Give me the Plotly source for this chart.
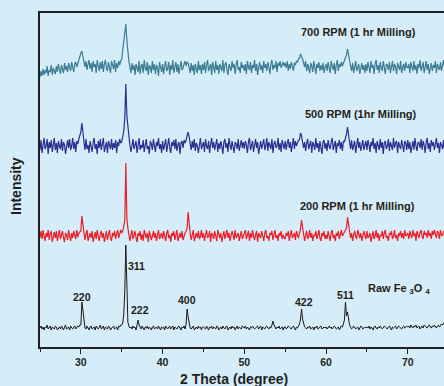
import numpy as np
import plotly.graph_objects as go

# 2-theta sampling grid (degrees): 0.125 deg step from 25 to 75 (401 points)
two_theta = np.linspace(25, 75, 401)

# Intensities (a.u., relative to each pattern's own baseline).
# One row = 5 degrees (40 samples).
raw_fe3o4 = [
    0, 2, -1, 1, -2, 1, 0, 3, -1, 0, 2, -2, 1, 0, -1, 2, 1, -2, 0, 1,
    -1, 2, 0, -2, 1, 3, -1, 0, 1, -2, 2, 0, -1, 1, 2, -1, 0, 2, 1, 3,
    3, 26, 18, 4, 0, -1, 2, 0, -2, 1, 2, -1, 0, 1, -2, 2, 0, -1, 1, 3,
    -1, 0, 2, -2, 1, 0, -1, 2, 1, -2, 0, 1, 2, -1, 0, 1, -2, 2, 1, 3,
    3, 5, 14, 38, 83, 36, 6, 2, 0, 1, -1, 2, 0, 1, -2, 3, 8, 3, 0, -1,
    2, 0, -2, 1, 0, 2, -1, 1, 0, -2, 1, 2, -1, 0, 1, -1, 2, 0, -2, 1,
    0, 1, -2, 2, 0, -1, 1, 2, -1, 0, 2, -2, 1, 0, -1, 1, 2, 0, -2, 1,
    0, 2, -1, 4, 19, 11, 3, 0, -1, 1, 2, -2, 0, 1, -1, 2, 0, 1, -2, 1,
    1, 0, -1, 2, 0, -2, 1, 0, 2, -1, 1, 0, -1, 2, 1, -2, 0, 1, -1, 2,
    0, -1, 1, 2, -2, 0, 1, -1, 2, 0, 1, -2, 0, 2, -1, 1, 0, -1, 2, 1,
    0, 2, -1, 1, 0, -2, 1, 0, 2, 1, -1, 0, 1, 2, -1, 0, 2, -2, 1, 0,
    -1, 1, 2, 0, -1, 1, 0, 3, 7, 3, 0, -1, 1, 0, 2, -1, 0, 1, -2, 1,
    1, -1, 0, 2, 1, 0, -1, 1, 2, 0, -2, 1, 0, 2, 4, 9, 19, 9, 4, 1,
    0, -1, 1, 0, 2, -1, 0, 1, -2, 1, 0, 2, -1, 0, 1, 2, -1, 0, 1, 0,
    1, -1, 0, 2, 0, 1, -1, 0, 2, 1, -1, 0, 1, -2, 0, 2, 1, 4, 8, 26,
    12, 16, 8, 3, 1, -1, 0, 2, 1, -1, 0, 1, -2, 0, 2, 1, -1, 0, 1, 0,
    1, 0, 2, -1, 1, 0, -2, 1, 2, 0, -1, 1, 0, 2, 1, -1, 0, 2, 1, 0,
    -1, 1, 2, 0, -2, 1, 0, 1, 2, -1, 0, 2, 1, 0, -1, 1, 2, 0, 1, 2,
    1, 2, 0, 3, 1, 0, 2, 1, 3, 0, 1, 2, -1, 1, 2, 0, 3, 2, 1, 0,
    2, 3, 1, 0, 2, 1, 3, 2, 0, 2, 3, 1, 2, 4, 3, 5, 6, 4, 3, 2,
    2,
]
rpm200 = [
    -2, 5, -3, 6, 0, -5, 3, -1, 6, -4, 2, 5, -6, 1, 4, -2, 5, -5, 2, 6,
    -3, 0, 5, -2, -6, 3, 1, -4, 6, 0, -5, 3, -2, 5, 1, -3, 6, -1, 3, 4,
    5, 20, 10, 3, -4, 2, 6, -5, 0, 3, -2, 5, -6, 1, 4, -3, 6, 0, -5, 2,
    5, -2, 3, -6, 0, 5, -4, 1, 6, -2, -5, 3, 0, 5, -3, 2, 6, -2, 3, 6,
    3, 5, 10, 16, 73, 18, 8, 2, -5, 1, 6, -3, 0, 5, -2, -6, 3, 0, 5, -4,
    2, -5, 6, 0, -2, 3, -6, 5, 1, -4, 0, 5, -2, 3, -5, 1, 6, -3, 0, 3,
    -3, 5, 0, -5, 3, 6, -2, 1, -6, 3, 0, 5, -4, 1, 6, -5, 0, 3, -2, 5,
    -4, 1, 3, 5, 8, 24, 10, 3, -4, 1, 6, -5, 0, 3, -2, 5, -3, 0, 6, -2,
    3, -5, 1, 6, -2, 0, 5, -6, 3, 1, -3, 5, 0, -5, 6, 1, -2, 3, -6, 0,
    5, -3, 1, 6, -2, 3, -5, 0, 5, 1, -4, 6, -2, 0, 3, -5, 1, 5, -3, 0,
    1, 6, -3, 0, 5, -5, 3, -2, 6, 0, -4, 1, 5, -6, 3, 0, -2, 5, 1, -5,
    3, 6, -2, 0, -5, 3, 1, 5, -4, 0, 6, -2, 1, -5, 3, 0, 5, -3, 1, -2,
    -3, 3, 0, 5, -5, 1, 6, -2, 0, 3, -4, 5, 1, -2, 3, 7, 16, 8, 2, -5,
    1, 5, -3, 0, 6, -2, 3, -5, 1, 0, 5, -3, 1, 6, -2, -5, 3, 0, 5, -3,
    1, -3, 5, 0, -5, 3, 6, -2, 1, -5, 3, 0, 5, -3, 1, 6, 0, 3, 4, 6,
    8, 19, 10, 4, -2, 3, -5, 1, 5, 0, -3, 6, 1, -2, 3, -5, 0, 5, 1, -3,
    5, -2, 0, 3, -6, 1, 5, -3, 0, 6, -2, 3, -5, 1, 0, 5, -3, 3, 6, -2,
    0, -5, 3, 1, 5, -3, 0, 6, -2, 1, -5, 3, 0, 5, -2, 3, -3, 6, 0, 1,
    3, -3, 5, 1, -2, 6, 0, 3, -5, 5, 1, -2, 3, 6, 0, -3, 5, 1, 3, -2,
    6, 0, 3, -3, 5, 1, 6, 0, -2, 5, 3, -3, 6, 1, 0, 5, 3, -2, 5, 1,
    2,
]
rpm500 = [
    -4, 6, -7, 3, 8, -3, 0, 7, -8, 4, -2, 6, -6, 1, 8, -4, 3, -7, 5, 0,
    -3, 7, -5, 4, 1, -8, 3, 6, -2, 7, -4, 0, 8, -3, 4, -6, 5, 2, 7, 10,
    14, 23, 12, 4, -4, 7, -3, 1, -7, 5, 0, -6, 4, 8, -3, 2, -8, 5, -2, 7,
    -4, 3, 8, -6, 0, 4, -7, 5, 1, -3, 7, -4, 3, -2, 6, -7, 4, 0, 7, 3,
    4, 9, 15, 28, 62, 30, 18, 6, 1, -6, 4, 7, -3, 0, 5, -7, 3, 8, -4, 1,
    -2, 6, -6, 4, 7, -3, 0, -8, 5, 2, -4, 7, 1, -6, 4, 0, 8, -3, 2, -7,
    5, -4, 1, 7, -6, 3, 8, -2, -7, 4, 0, 6, -3, 7, -5, 1, 4, -8, 3, 5,
    -2, 6, 3, 6, 11, 14, 9, 3, -4, 5, -2, 7, -5, 3, 0, -7, 4, 8, -3, 1,
    4, -6, 7, 0, -3, 5, -7, 2, 8, -2, 4, -4, 1, 7, -6, 3, -3, 5, 0, -8,
    4, 7, -2, 3, -6, 8, 1, -4, 5, 0, -7, 4, 2, -3, 7, -5, 1, 6, -2, 4,
    -3, 5, 1, -7, 4, 8, -4, 0, 5, -6, 3, 7, -2, 4, -8, 1, 5, -3, 2, 7,
    -4, 0, 8, -5, 4, 1, -3, 7, -7, 2, 5, -2, 0, 8, -4, 3, -6, 6, 1, -3,
    5, -4, 3, 7, -2, 4, -6, 1, 8, -3, 5, 0, 4, 6, 6, 13, 10, 5, -2, 4,
    -5, 3, 7, -3, 0, 5, -7, 4, 1, -4, 8, -2, 3, -6, 5, 0, -8, 4, 6, -3,
    3, -5, 6, 0, -3, 4, 8, -4, 1, 5, -7, 3, 0, 6, -3, 4, -5, 5, 4, 7,
    12, 19, 9, 4, -3, 6, -4, 1, 5, -7, 3, 8, -2, 4, -5, 0, 6, -4, 3, 5,
    -4, 6, 1, -6, 4, 0, 8, -3, 3, -7, 5, 1, -4, 7, -2, 4, -8, 3, 5, -3,
    0, 7, -5, 4, 1, -4, 8, -2, 3, 5, -7, 4, 0, -3, 6, 1, -6, 5, 3, -4,
    6, -3, 4, -7, 1, 5, -4, 8, 0, -5, 4, 3, -2, 7, -4, 5, 1, -7, 4, 8,
    -3, 3, -6, 6, 0, 4, -4, 5, 8, -2, 3, -7, 4, 1, -3, 6, -4, 5, 0, 3,
    1,
]
rpm700 = [
    -9, -3, -8, -1, -7, -2, -5, 2, -8, -2, -4, 3, -7, 0, -3, -6, 2, -4, 4, -2,
    -6, 3, 0, -5, 5, -2, 2, -4, 5, 0, -3, 6, 1, -4, 4, 6, 1, 5, 8, 11,
    15, 17, 10, 6, 1, 7, -2, 4, 8, -1, 5, -4, 7, 1, 4, -5, 8, 2, -3, 6,
    -1, 7, -4, 4, 8, 0, -3, 6, 2, -5, 7, 3, -1, 8, -4, 5, 0, 7, 3, 7,
    9, 18, 26, 32, 44, 28, 16, 7, 1, -5, 5, -2, 3, -7, 4, 0, -4, 7, -6, 2,
    4, -5, 8, 0, -3, 6, -7, 3, 1, -5, 7, -2, 4, -6, 3, 0, -8, 6, 1, -4,
    4, -6, 2, 7, -3, 0, 6, -7, 3, -2, 8, -5, 1, 6, -4, 4, -6, 3, 7, -2,
    0, 4, 7, 2, 6, 5, 0, -5, 5, -3, 3, -7, 4, 0, -5, 7, -2, 3, -6, 4,
    -2, 6, -5, 3, 8, -3, 0, 4, -7, 6, 1, -5, 7, -2, 3, -6, 4, 0, -3, 8,
    -5, 3, 6, -2, -7, 4, 1, -3, 7, 0, 4, -6, 3, 8, -2, 1, -5, 6, 0, 3,
    -3, 4, -6, 7, 1, -2, 6, -5, 3, 0, 8, -3, 4, -7, 1, 6, -2, 3, -5, 7,
    0, 4, -3, 6, 1, -6, 4, 8, -2, 3, 0, 7, -4, 5, 2, 7, 0, 4, 6, 2,
    5, 0, 7, -3, 4, -1, 6, 2, -3, 5, 3, 7, 6, 9, 10, 14, 12, 9, 5, 1,
    7, -3, 4, 0, -5, 5, 2, -4, 7, 1, -6, 4, 0, 6, -3, 3, -2, 5, -5, 1,
    4, -3, 6, 0, -5, 7, 1, -2, 5, -6, 3, 8, -3, 4, 1, 6, 2, 5, 6, 9,
    13, 19, 12, 6, 2, -3, 5, -5, 3, 7, -3, 1, 4, -6, 0, 5, -2, 3, -5, 4,
    -3, 6, 1, -5, 7, 0, 3, -6, 4, 8, -2, 3, -5, 6, 0, -3, 7, 1, -6, 4,
    3, -2, 6, -5, 0, 7, -3, 4, 1, -6, 5, 2, -2, 7, -5, 0, 4, -3, 6, 1,
    0, 4, -5, 6, 1, -3, 7, -2, 3, -6, 4, 0, 8, -3, 1, 6, -5, 3, 7, -2,
    4, -6, 1, 5, -3, 3, 0, 7, -5, 4, 1, -2, 6, -3, 3, 8, 0, 4, -2, 3,
    1,
]

series_names = ["Raw Fe3O4", "200 RPM", "500 RPM", "700 RPM"]
series_data = [raw_fe3o4, rpm200, rpm500, rpm700]
series_offsets = [19, 111, 201, 279]
series_colors = ["#1c1a1b", "#ee1c25", "#2b2e8f", "#3b7c93"]
series_widths = [1.0, 1.2, 1.2, 1.2]

for n, d in zip(series_names, series_data):
    if len(d) != len(two_theta):
        raise SystemExit(f"{n}: {len(d)} values")

peak_labels = ["220", "311", "222", "400", "422", "511"]
peak_label_x = [30.12, 36.86, 37.2, 42.97, 57.3, 62.4]
peak_label_y = [50, 81, 37, 47, 45, 52]

sample_labels = ["700 RPM (1 hr Milling)", "500 RPM (1hr Milling)", "200 RPM (1 hr Milling)"]
sample_label_x = [64.0, 64.26, 63.8]
sample_label_y = [315, 233, 141]

x_ticks = [30, 40, 50, 60, 70]

BG = "#d5ecf9"
TXT = "#231f20"
FONT = "Liberation Sans"

fig = go.Figure()
for name, vals, off, col, w in zip(series_names, series_data, series_offsets,
                                   series_colors, series_widths):
    fig.add_trace(go.Scatter(
        x=two_theta, y=np.array(vals, dtype=float) + off, mode="lines",
        name=name, line=dict(color=col, width=w), showlegend=False,
        hoverinfo="skip",
    ))

ann = []
for t, x, y in zip(peak_labels, peak_label_x, peak_label_y):
    ann.append(dict(x=x, y=y, xref="x", yref="y", text=f"<b>{t}</b>", showarrow=False,
                    font=dict(size=10.5, color=TXT, family=FONT)))
for t, x, y in zip(sample_labels, sample_label_x, sample_label_y):
    ann.append(dict(x=x, y=y, xref="x", yref="y", text=f"<b>{t}</b>", showarrow=False,
                    font=dict(size=11, color=TXT, family=FONT)))
ann.append(dict(x=64.85, y=58, xref="x", yref="y", xanchor="left",
                text="<b>Raw Fe <sub>3</sub>O <sub>4</sub></b>", showarrow=False,
                font=dict(size=11, color=TXT, family=FONT)))
# axis titles (positions relative to the plot area)
ann.append(dict(x=(234 - 40) / 404, y=(347 - 379) / 334, xref="paper", yref="paper",
                xanchor="center", yanchor="middle",
                text="<b>2 Theta (degree)</b>", showarrow=False,
                font=dict(size=14, color=TXT, family=FONT)))
ann.append(dict(x=(16 - 40) / 404, y=(347 - 186) / 334, xref="paper", yref="paper",
                xanchor="center", yanchor="middle", textangle=-90,
                text="<b>Intensity</b>", showarrow=False,
                font=dict(size=14, color=TXT, family=FONT)))

fig.update_layout(
    width=444, height=386,
    margin=dict(l=40, r=0, t=13, b=39),
    paper_bgcolor=BG, plot_bgcolor=BG,
    annotations=ann,
    xaxis=dict(
        range=[25, 74.43], tickvals=x_ticks, ticktext=[str(v) for v in x_ticks],
        ticks="outside", ticklen=5, tickwidth=1.3, tickcolor=TXT,
        minor=dict(dtick=5, tick0=25, ticks="outside", ticklen=3, tickwidth=1.2, tickcolor=TXT),
        showline=True, linecolor=TXT, linewidth=1.5, mirror=True,
        showgrid=False, zeroline=False,
        tickfont=dict(size=10.5, color=TXT, family=FONT, weight="bold"),
    ),
    yaxis=dict(
        range=[0, 334], showticklabels=False, ticks="",
        showline=True, linecolor=TXT, linewidth=1.5,
        showgrid=False, zeroline=False,
    ),
)

fig.write_html("out.html", config={"displayModeBar": False},
               post_script="document.body.style.margin='0';")
